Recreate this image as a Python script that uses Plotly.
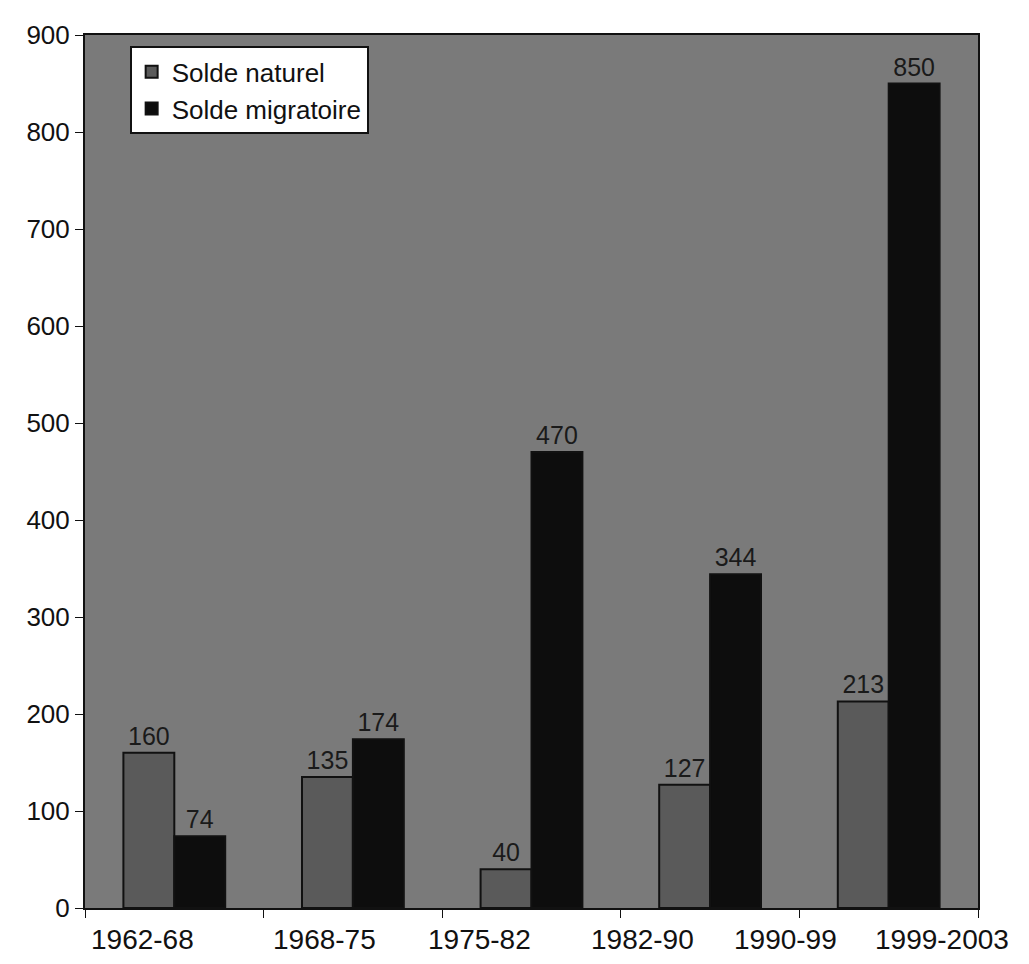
import plotly.graph_objects as go

periods = ["1962-68", "1968-75", "1975-82", "1982-90", "1990-99", "1999-2003"]
groups = ["1962-68", "1968-75", "1975-82", "1982-90", "1990-99"]
solde_naturel = [160, 135, 40, 127, 213]
solde_migratoire = [74, 174, 470, 344, 850]
y_ticks = [0, 100, 200, 300, 400, 500, 600, 700, 800, 900]

# layout-only: where the period labels sit along the category axis (as in the scan)
label_pos = [-0.18, 0.84, 1.71, 2.62, 3.42, 4.30]

font_family = "Liberation Sans, Arial, sans-serif"

fig = go.Figure()
fig.add_trace(go.Bar(
    name="Solde naturel", x=groups, y=solde_naturel,
    marker=dict(color="#5a5a5a", line=dict(color="#111111", width=2)),
    text=solde_naturel, textposition="outside",
    textfont=dict(size=25, color="#1a1a1a", family=font_family),
    cliponaxis=False,
))
fig.add_trace(go.Bar(
    name="Solde migratoire", x=groups, y=solde_migratoire,
    marker=dict(color="#0d0d0d", line=dict(color="#111111", width=2)),
    text=solde_migratoire, textposition="outside",
    textfont=dict(size=25, color="#1a1a1a", family=font_family),
    cliponaxis=False,
))

for p, lab in zip(label_pos, periods):
    fig.add_annotation(
        x=p, y=0, xref="x", yref="paper", yanchor="top", yshift=-14,
        text=lab, showarrow=False,
        font=dict(size=28, color="#111111", family=font_family),
    )

fig.update_layout(
    width=1029, height=964,
    margin=dict(l=77, r=59, t=20, b=64),
    paper_bgcolor="white",
    plot_bgcolor="#7a7a7a",
    barmode="group", bargap=0.43, bargroupgap=0,
    font=dict(family=font_family, size=26, color="#111111"),
    showlegend=True,
    legend=dict(
        x=0.05, y=0.987, xanchor="left", yanchor="top",
        bgcolor="white", bordercolor="#111111", borderwidth=2,
        font=dict(size=26, color="#111111"),
        itemwidth=30, tracegroupgap=0,
    ),
    xaxis=dict(
        type="category", categoryorder="array", categoryarray=groups,
        range=[-0.5, 4.5],
        showline=True, linecolor="#111111", linewidth=2, mirror=True,
        ticks="outside", tickson="boundaries", ticklen=8, tickcolor="#111111",
        showticklabels=False,
        showgrid=False,
    ),
    yaxis=dict(
        range=[0, 900], tickvals=y_ticks,
        showline=True, linecolor="#111111", linewidth=2, mirror=True,
        ticks="outside", ticklen=8, tickcolor="#111111",
        tickfont=dict(size=26, color="#111111"),
        showgrid=False, zeroline=False,
    ),
)

fig.write_html("out.html")
